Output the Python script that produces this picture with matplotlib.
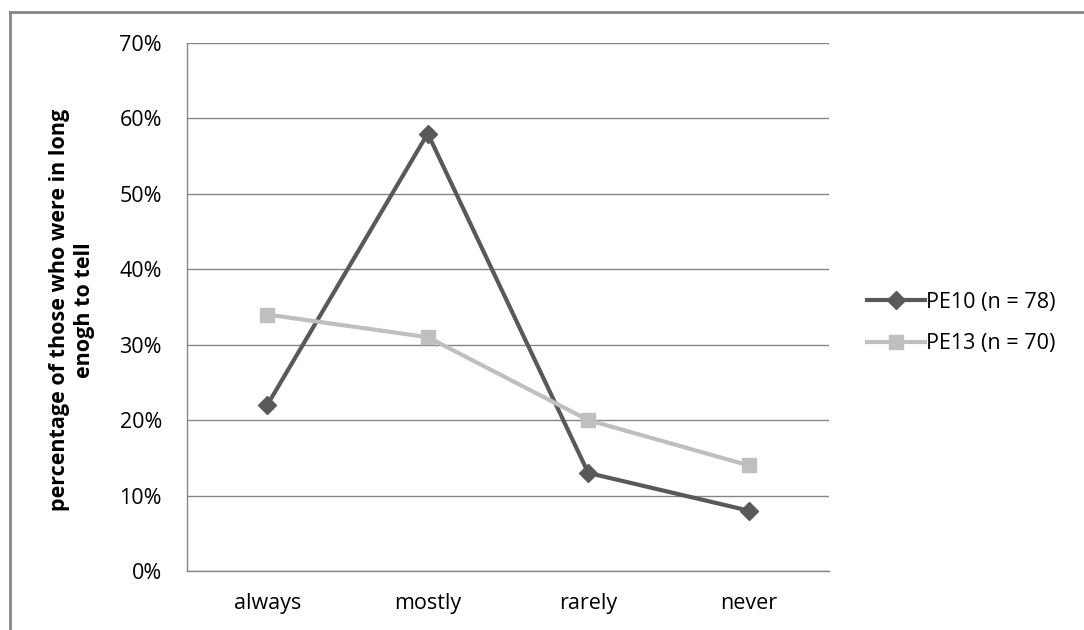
import matplotlib
matplotlib.use("Agg")
import matplotlib.pyplot as plt
from matplotlib.lines import Line2D
from matplotlib.ticker import PercentFormatter

categories = ["always", "mostly", "rarely", "never"]
pe10 = [22, 58, 13, 8]
pe13 = [34, 31, 20, 14]
series_labels = ["PE10 (n = 78)", "PE13 (n = 70)"]

plt.rcParams["font.family"] = ["Open Sans", "DejaVu Sans"]

W, H = 1084, 630
fig = plt.figure(figsize=(W / 100, H / 100), dpi=100)
ax = fig.add_axes([187 / W, 59 / H, 642 / W, 528 / H])

x = range(len(categories))
ax.plot(x, pe10, color="#595959", lw=3, marker="D", ms=9,
        label=series_labels[0], zorder=3)
ax.plot(x, pe13, color="#bfbfbf", lw=3, marker="s", ms=10,
        label=series_labels[1], zorder=3)

ax.set_xlim(-0.5, len(categories) - 0.5)
ax.set_ylim(0, 70)
ax.set_yticks(range(0, 71, 10))
ax.yaxis.set_major_formatter(PercentFormatter(decimals=0))
ax.set_xticks(list(x))
ax.set_xticklabels(categories)
ax.tick_params(axis="both", length=0, labelsize=15.5, colors="black")
ax.tick_params(axis="y", pad=18)
ax.tick_params(axis="x", pad=16)
ax.grid(axis="y", color="#868686", lw=1)
ax.set_axisbelow(True)
for s in ["top", "right"]:
    ax.spines[s].set_visible(False)
for s in ["left", "bottom"]:
    ax.spines[s].set_color("#868686")
    ax.spines[s].set_linewidth(1)

fig.text(72 / W, 1 - 310 / H,
         "percentage of those who were in long\nenogh to tell",
         rotation=90, ha="center", va="center", fontsize=15.5,
         fontweight="bold", linespacing=1.2)

ax.legend(loc="center left", bbox_to_anchor=(867 / W, 1 - 323 / H),
          bbox_transform=fig.transFigure, frameon=False, fontsize=15.5,
          handlelength=2.7, handletextpad=0.05, labelspacing=0.95,
          borderaxespad=0, borderpad=0)

# outer chart border (only top and left visible)
fig.add_artist(Line2D([10 / W, 10 / W], [1 - 12 / H, 0], color="#868686",
                      lw=2, transform=fig.transFigure))
fig.add_artist(Line2D([10 / W, 1], [1 - 12 / H, 1 - 12 / H], color="#868686",
                      lw=2, transform=fig.transFigure))

fig.savefig("out.png", dpi=100, facecolor="white")
